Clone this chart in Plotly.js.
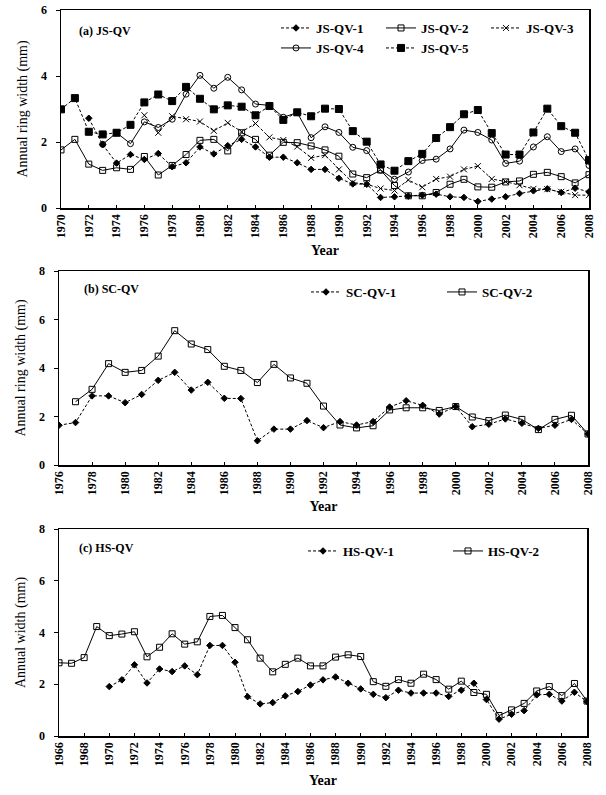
<!DOCTYPE html>
<html>
<head>
<meta charset="utf-8">
<script src="https://cdn.plot.ly/plotly-3.0.1.min.js"></script>
<style>html,body{margin:0;padding:0;background:#fff;}#chart{width:606px;height:795px;}</style>
</head>
<body>
<div id="chart"></div>
<script>
// ---------- Data ----------
const yearsJS = [1970,1971,1972,1973,1974,1975,1976,1977,1978,1979,1980,1981,1982,1983,1984,1985,1986,1987,1988,1989,1990,1991,1992,1993,1994,1995,1996,1997,1998,1999,2000,2001,2002,2003,2004,2005,2006,2007,2008];
const JS_QV_1 = [null,null,2.72,1.92,1.36,1.62,1.47,1.65,1.25,1.37,1.85,1.64,1.89,2.08,1.85,1.54,1.54,1.37,1.17,1.17,0.90,0.73,0.72,0.32,0.34,0.36,0.39,0.42,0.34,0.32,0.20,0.27,0.34,0.44,0.52,0.58,0.47,0.60,0.49];
const JS_QV_2 = [1.76,2.08,1.33,1.14,1.22,1.17,1.56,1.00,1.29,1.62,2.05,2.08,1.73,2.28,2.08,1.60,1.99,1.98,1.88,1.76,1.57,1.03,0.92,1.15,0.68,0.37,0.37,0.47,0.72,0.87,0.64,0.63,0.79,0.82,1.02,1.08,0.95,0.76,1.01];
const JS_QV_3 = [null,null,null,null,null,null,2.81,2.28,2.78,2.69,2.62,2.34,2.58,2.31,2.56,2.14,2.06,1.86,1.52,1.60,1.17,0.77,0.72,0.59,0.53,0.85,0.63,0.88,0.95,1.17,1.27,0.88,0.80,0.69,0.58,0.57,0.49,0.39,0.39];
const JS_QV_4 = [null,null,null,1.93,2.28,1.95,2.61,2.44,2.69,3.45,4.02,3.63,3.96,3.58,3.15,3.11,2.75,2.89,2.13,2.46,2.29,1.84,1.74,1.15,0.87,1.09,1.44,1.48,1.79,2.36,2.29,2.06,1.35,1.42,1.85,2.16,1.71,1.79,1.29];
const JS_QV_5 = [2.99,3.33,2.31,2.23,2.28,2.52,3.20,3.44,3.24,3.67,3.31,2.99,3.11,3.07,2.81,3.09,2.67,2.90,2.78,3.01,3.00,2.33,2.01,1.32,1.13,1.42,1.64,2.12,2.45,2.84,2.97,2.27,1.62,1.62,2.29,3.01,2.48,2.28,1.45];

const yearsSC = [1976,1977,1978,1979,1980,1981,1982,1983,1984,1985,1986,1987,1988,1989,1990,1991,1992,1993,1994,1995,1996,1997,1998,1999,2000,2001,2002,2003,2004,2005,2006,2007,2008];
const SC_QV_1 = [1.64,1.75,2.85,2.85,2.57,2.91,3.49,3.82,3.09,3.41,2.75,2.74,1.00,1.48,1.48,1.83,1.54,1.79,1.65,1.79,2.39,2.65,2.46,2.10,2.41,1.58,1.68,1.90,1.72,1.51,1.64,1.88,1.28];
const SC_QV_2 = [null,2.61,3.12,4.18,3.82,3.90,4.49,5.54,4.99,4.76,4.07,3.90,3.40,4.15,3.59,3.37,2.43,1.65,1.53,1.62,2.27,2.36,2.36,2.25,2.41,1.98,1.83,2.06,1.88,1.46,1.88,2.05,1.28];

const yearsHS = [1966,1967,1968,1969,1970,1971,1972,1973,1974,1975,1976,1977,1978,1979,1980,1981,1982,1983,1984,1985,1986,1987,1988,1989,1990,1991,1992,1993,1994,1995,1996,1997,1998,1999,2000,2001,2002,2003,2004,2005,2006,2007,2008];
const HS_QV_1 = [null,null,null,null,1.91,2.17,2.75,2.05,2.59,2.49,2.71,2.37,3.50,3.50,2.85,1.52,1.24,1.29,1.55,1.72,1.97,2.17,2.28,2.04,1.82,1.61,1.48,1.77,1.66,1.66,1.66,1.53,1.77,2.04,1.41,0.65,0.84,0.98,1.59,1.61,1.35,1.69,1.33];
const HS_QV_2 = [2.83,2.81,3.03,4.23,3.88,3.94,4.03,3.06,3.43,3.95,3.55,3.64,4.62,4.66,4.19,3.72,3.01,2.48,2.77,3.01,2.71,2.71,3.05,3.14,3.07,2.10,1.92,2.18,2.04,2.39,2.18,1.81,2.12,1.68,1.61,0.79,1.01,1.26,1.74,1.91,1.56,2.03,1.35];

// ---------- Styles ----------
const W = 606, H = 795;
const serif = 'Liberation Serif, Times New Roman, serif';
const dashS = '3px,2px';
function tr(x, y, name, sym, size, dashed, xa, ya, leg) {
  return {
    x: x, y: y, name: name, type: 'scatter', mode: 'lines+markers',
    xaxis: xa, yaxis: ya, legend: leg, connectgaps: false,
    line: {color: '#000', width: 1, dash: dashed ? dashS : 'solid'},
    marker: {symbol: sym, size: size, color: '#000', line: {color: '#000', width: 1}}
  };
}
const data = [
  tr(yearsJS, JS_QV_1, 'JS-QV-1', 'diamond', 5, true, 'x', 'y', 'legend'),
  tr(yearsJS, JS_QV_2, 'JS-QV-2', 'square-open', 6, false, 'x', 'y', 'legend'),
  tr(yearsJS, JS_QV_3, 'JS-QV-3', 'x-thin-open', 6, true, 'x', 'y', 'legend'),
  tr(yearsJS, JS_QV_4, 'JS-QV-4', 'circle-open', 6, false, 'x', 'y', 'legend2'),
  tr(yearsJS, JS_QV_5, 'JS-QV-5', 'square', 7, true, 'x', 'y', 'legend2'),
  tr(yearsSC, SC_QV_1, 'SC-QV-1', 'diamond', 5, true, 'x2', 'y2', 'legend3'),
  tr(yearsSC, SC_QV_2, 'SC-QV-2', 'square-open', 6, false, 'x2', 'y2', 'legend3'),
  tr(yearsHS, HS_QV_1, 'HS-QV-1', 'diamond', 5, true, 'x3', 'y3', 'legend4'),
  tr(yearsHS, HS_QV_2, 'HS-QV-2', 'square-open', 6, false, 'x3', 'y3', 'legend4')
];

const tickFont = {family: serif, size: 12, color: '#000', weight: 'bold'};
function xax(range, domain, anchor, standoff) {
  return {
    range: range, domain: domain, anchor: anchor, dtick: 2, tick0: 1966,
    tickangle: -90, ticks: 'inside', ticklen: 3, tickcolor: '#000',
    showline: true, linecolor: '#000', linewidth: 1.5, mirror: true,
    showgrid: false, zeroline: false, tickfont: tickFont,
    title: {text: 'Year', font: {family: serif, size: 14, color: '#000', weight: 'bold'}, standoff: standoff}
  };
}
function yax(range, domain, anchor, title) {
  return {
    range: range, domain: domain, anchor: anchor, dtick: 2,
    ticks: 'outside', ticklen: 4, tickcolor: '#000',
    showline: true, linecolor: '#000', linewidth: 1.5, mirror: true,
    showgrid: false, zeroline: false, tickfont: tickFont, ticklabelstandoff: 6,
    title: {text: title, font: {family: serif, size: 14, color: '#000'}, standoff: 10}
  };
}
const px = v => v / W, py = v => 1 - v / H;
const legFont = {family: serif, size: 13, color: '#000', weight: 'bold'};
function leg(xp, yp, ew) {
  return {x: px(xp), y: py(yp), xref: 'paper', yref: 'paper', xanchor: 'left', yanchor: 'middle',
    orientation: 'h', entrywidth: ew, entrywidthmode: 'pixels', font: legFont,
    bgcolor: 'rgba(0,0,0,0)', borderwidth: 0, tracegroupgap: 0, itemclick: false};
}
const layout = {
  width: W, height: H, margin: {l: 0, r: 0, t: 0, b: 0, autoexpand: false},
  paper_bgcolor: '#fff', plot_bgcolor: '#fff', showlegend: true,
  font: {family: serif, color: '#000'},
  xaxis: xax([1970, 2008], [px(61), px(589)], 'y', 8),
  yaxis: yax([0, 6], [py(208), py(10)], 'x', 'Annual ring width (mm)'),
  xaxis2: xax([1976, 2008], [px(59), px(588)], 'y2', 7),
  yaxis2: yax([0, 8], [py(465), py(271)], 'x2', 'Annual ring width (mm)'),
  xaxis3: xax([1966, 2008], [px(59), px(587)], 'y3', 10),
  yaxis3: yax([0, 8], [py(736), py(529)], 'x3', 'Annual width (mm)'),
  legend: leg(276, 28, 60),
  legend2: leg(276, 48, 60),
  legend3: leg(306, 292, 91),
  legend4: leg(303, 551, 100),
  annotations: [
    {text: '(a) JS-QV', x: px(77), y: py(31), xref: 'paper', yref: 'paper', xanchor: 'left', yanchor: 'middle', showarrow: false, font: {family: serif, size: 12, color: '#000', weight: 'bold'}},
    {text: '(b) SC-QV', x: px(82), y: py(289), xref: 'paper', yref: 'paper', xanchor: 'left', yanchor: 'middle', showarrow: false, font: {family: serif, size: 12, color: '#000', weight: 'bold'}},
    {text: '(c) HS-QV', x: px(77), y: py(548), xref: 'paper', yref: 'paper', xanchor: 'left', yanchor: 'middle', showarrow: false, font: {family: serif, size: 12, color: '#000', weight: 'bold'}}
  ]
};
Plotly.newPlot('chart', data, layout, {staticPlot: true, displayModeBar: false});
</script>
</body>
</html>
